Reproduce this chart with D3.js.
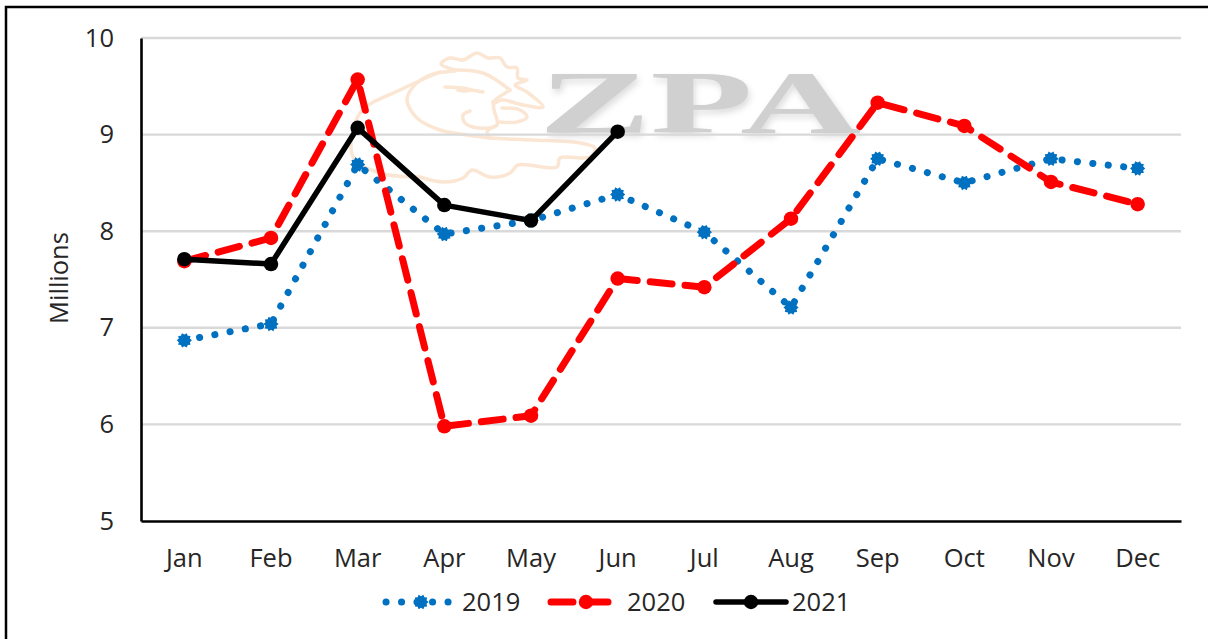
<!DOCTYPE html>
<html>
<head>
<meta charset="utf-8">
<script src="https://cdn.jsdelivr.net/npm/d3@7"></script>
<style>
  html, body { margin: 0; padding: 0; background: #fff; }
  svg { display: block; }
  text { font-family: "Open Sans", "Noto Sans", sans-serif; fill: #262626; }
</style>
</head>
<body>
<div id="chart"></div>
<script>
  var months = ["Jan", "Feb", "Mar", "Apr", "May", "Jun", "Jul", "Aug", "Sep", "Oct", "Nov", "Dec"];
  var values2019 = [6.87, 7.04, 8.69, 7.97, 8.11, 8.38, 7.99, 7.21, 8.75, 8.50, 8.75, 8.65];
  var values2020 = [7.69, 7.93, 9.57, 5.98, 6.09, 7.51, 7.42, 8.13, 9.33, 9.09, 8.51, 8.28];
  var values2021 = [7.71, 7.66, 9.07, 8.27, 8.11, 9.03];
  var yTicks = [5, 6, 7, 8, 9, 10];

  var width = 1208, height = 639;
  var left = 141, right = 1181, top_ = 38, bottom = 521;

  var svg = d3.select("#chart").append("svg")
      .attr("width", width)
      .attr("height", height);

  // outer frame, only the top and left edges are in the picture
  svg.append("path")
      .attr("d", "M6,639V7H1208")
      .attr("fill", "none")
      .attr("stroke", "#000")
      .attr("stroke-width", 2.5);

  var x = d3.scaleBand().domain(months).range([left, right]);
  var y = d3.scaleLinear().domain([5, 10]).range([bottom, top_]);

  // watermark sits behind the grid
  var mark = svg.append("g");
  var henLine = d3.line().curve(d3.curveCatmullRom);
  var henParts = [
    // comb
    [[455,70],[441,64],[450,58],[463,60],[477,53],[488,58],[500,58],[507,67],[517,68],[518,78],[527,80],[515,85],[527,92],[543,107],[523,105],[502,100],[495,103]],
    // top of head
    [[455,70],[483,73],[510,90]],
    // face and underside
    [[455,71],[430,75],[413,87],[407,100],[417,118],[440,130],[467,135],[490,138],[533,140],[580,143],[595,148],[590,157],[560,158],[557,167],[518,165],[510,173],[490,177],[472,170],[463,178],[443,182],[420,177]],
    // back
    [[440,72],[400,90],[360,113],[353,157],[380,173],[420,177]],
    // eye
    [[445,87],[463,88],[472,90],[483,92]],
    [[458,90],[465,91],[470,90]],
    // chin and neck
    [[470,111],[463,115],[465,123],[480,128],[497,125],[494,110],[493,102]],
    [[510,90],[495,100],[493,102]],
    [[502,108],[520,110],[527,117],[517,122],[500,122]],
    [[497,125],[487,132],[490,138]]
  ];
  mark.selectAll("path.hen")
    .data(henParts)
    .join("path")
      .attr("class", "hen")
      .attr("d", henLine)
      .attr("fill", "none")
      .attr("stroke", "#fbe6d3")
      .attr("stroke-width", 3.5)
      .attr("stroke-linecap", "round");
  mark.append("text")
      .attr("x", 700).attr("y", 132)
      .attr("text-anchor", "middle")
      .attr("textLength", 322)
      .attr("lengthAdjust", "spacingAndGlyphs")
      .style("font-family", "'Liberation Serif', serif")
      .style("font-weight", "bold")
      .style("font-size", "88px")
      .style("fill", "#d0d0d0")
      .style("filter", "drop-shadow(2px 4px 3px #ddd)")
      .text("ZPA");

  // grid
  svg.append("g")
    .selectAll("line")
    .data(yTicks.filter(function(d) { return d > 5; }))
    .join("line")
      .attr("x1", left)
      .attr("x2", right)
      .attr("y1", function(d) { return y(d); })
      .attr("y2", function(d) { return y(d); })
      .attr("stroke", "#d9d9d9")
      .attr("stroke-width", 2.4);

  // axes
  var axisX = svg.append("g")
      .attr("transform", "translate(0," + bottom + ")")
      .call(d3.axisBottom(x).tickSize(0).tickPadding(28));
  var axisY = svg.append("g")
      .attr("transform", "translate(" + left + ",0)")
      .call(d3.axisLeft(y).tickValues(yTicks).tickFormat(d3.format("d")).tickSize(0).tickPadding(27));
  [axisX, axisY].forEach(function(axis) {
    axis.selectAll("path").attr("stroke", "#000").attr("stroke-width", 2.6);
    axis.selectAll("text").style("font-size", "25.5px").style("fill", "#262626");
  });

  svg.append("text")
      .attr("transform", "translate(68," + 278 + ") rotate(-90)")
      .attr("text-anchor", "middle")
      .style("font-size", "25.5px")
      .text("Millions");

  // round marker with a scalloped edge, used for 2019
  var burst = {
    draw: function(context, size) {
      var r = Math.sqrt(size / Math.PI), n = 10;
      for (var i = 0; i < n * 2; i++) {
        var a = i * Math.PI / n;
        var rr = i % 2 ? r * 0.84 : r * 1.1;
        if (i === 0) context.moveTo(rr * Math.cos(a), rr * Math.sin(a));
        else context.lineTo(rr * Math.cos(a), rr * Math.sin(a));
      }
      context.closePath();
    }
  };

  // series
  var series = [
    { name: "2019", values: values2019, color: "#0070c0", width: 7, dash: "0.1 15.4", symbol: burst, size: 150 },
    { name: "2020", values: values2020, color: "#ff0000", width: 7, dash: "22 13", symbol: d3.symbolCircle, size: 165 },
    { name: "2021", values: values2021, color: "#000000", width: 5.5, dash: null, symbol: d3.symbolCircle, size: 165 }
  ];

  var line = d3.line()
      .x(function(d, i) { return x(months[i]) + x.bandwidth() / 2; })
      .y(function(d) { return y(d); });

  function drawMarker(g, s) {
    g.append("path")
        .attr("d", d3.symbol().type(s.symbol).size(s.size))
        .attr("fill", s.color);
  }

  series.forEach(function(s) {
    var g = svg.append("g");
    g.append("path")
        .attr("d", line(s.values))
        .attr("fill", "none")
        .attr("stroke", s.color)
        .attr("stroke-width", s.width)
        .attr("stroke-linecap", "round")
        .attr("stroke-linejoin", "round")
        .attr("stroke-dasharray", s.dash);
    g.selectAll("g.pt")
      .data(s.values)
      .join("g")
        .attr("class", "pt")
        .attr("transform", function(d, i) {
          return "translate(" + (x(months[i]) + x.bandwidth() / 2) + "," + y(d) + ")";
        })
        .each(function() { drawMarker(d3.select(this), s); });
  });

  // legend
  var legendX = d3.scaleOrdinal().domain(["2019", "2020", "2021"]).range([386, 551, 716]);
  var legendY = 602;
  series.forEach(function(s) {
    var g = svg.append("g").attr("transform", "translate(" + legendX(s.name) + "," + legendY + ")");
    g.append("line")
        .attr("x1", 0).attr("x2", 70)
        .attr("stroke", s.color)
        .attr("stroke-width", s.width)
        .attr("stroke-linecap", "round")
        .attr("stroke-dasharray", s.dash);
    var m = g.append("g").attr("transform", "translate(35,0)");
    drawMarker(m, s);
    g.append("text")
        .attr("x", 76).attr("y", 9)
        .style("font-size", "25.5px")
        .text(s.name);
  });
</script>
</body>
</html>
